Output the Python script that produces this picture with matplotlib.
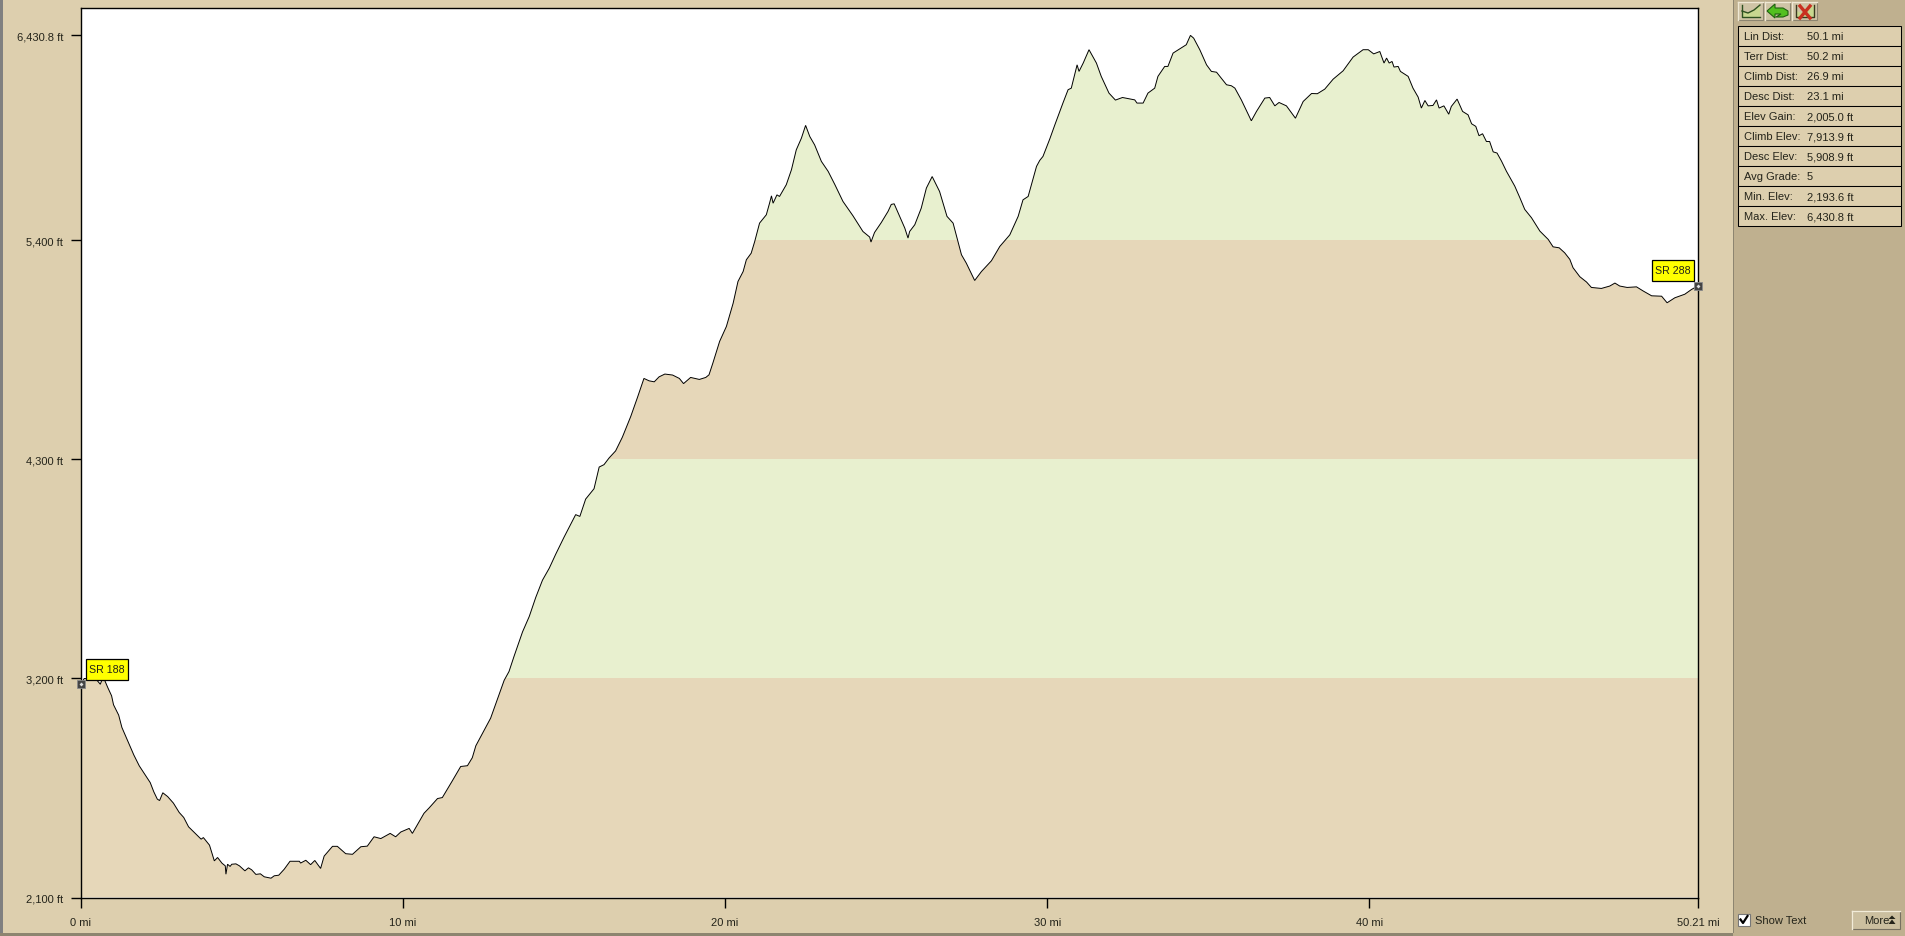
import matplotlib
matplotlib.use("Agg")
import matplotlib.pyplot as plt
from matplotlib.patches import Polygon, Rectangle

plt.rcParams['font.family'] = ['Liberation Sans', 'DejaVu Sans']

# ---------- data ----------
dist_mi = [
0,0.1,0.47,0.6,0.65,0.73,0.83,0.95,1.01,1.17,1.27,1.45,1.64,1.81,2.0,2.15,2.26,2.37,2.44,2.54,2.69,2.87,3.05,3.19,3.34,3.57,3.73,3.8,3.99,4.14,
4.24,4.38,4.48,4.5,4.55,4.63,4.68,4.81,4.92,5.09,5.2,5.3,5.43,5.57,5.69,5.9,6.0,6.14,6.31,6.49,6.78,
6.82,6.98,7.13,7.26,7.44,7.55,7.81,7.96,8.22,8.43,8.69,8.89,9.1,9.31,9.6,9.77,9.93,10.19,10.29,10.65,10.81,11.07,11.22,11.53,11.79,12.0,12.15,12.26,
12.52,12.72,12.93,13.14,13.29,13.45,13.71,13.92,14.12,14.33,14.54,14.74,15.0,15.36,15.49,15.67,15.93,16.09,16.24,16.4,16.6,16.81,17.07,17.28,17.48,
17.64,17.8,17.95,18.13,18.37,18.58,18.71,18.93,19.2,19.4,19.5,19.62,19.83,20.04,20.25,20.4,20.56,20.66,20.81,20.92,21.07,21.28,21.38,21.44,21.49,
21.61,21.69,21.9,22.06,22.21,22.37,22.5,22.63,22.78,22.99,23.2,23.41,23.66,23.97,24.28,24.49,24.53,24.64,24.85,25.06,25.16,25.25,25.42,25.58,25.68,
25.73,25.89,26.09,26.25,26.43,26.66,26.89,27.08,27.34,27.49,27.75,27.96,28.27,28.53,28.84,29.1,29.25,29.41,29.67,29.77,29.87,30.03,30.08,30.24,
30.49,30.65,30.75,30.93,30.99,31.12,31.3,31.53,31.68,31.92,32.12,32.34,32.72,32.79,32.98,33.13,33.34,33.44,33.65,33.75,33.91,34.32,34.45,34.55,
34.74,34.95,35.1,35.26,35.57,35.72,35.83,36.03,36.34,36.5,36.76,36.91,37.07,37.2,37.43,37.71,37.95,38.21,38.39,38.62,38.88,39.19,39.5,39.81,39.97,
40.14,40.33,40.46,40.54,40.62,40.71,40.77,40.9,40.97,41.21,41.36,41.52,41.62,41.73,41.83,41.98,42.09,42.17,42.32,42.47,42.55,42.73,42.9,43.07,43.18,
43.31,43.41,43.52,43.64,43.74,43.85,43.97,44.11,44.26,44.52,44.68,44.83,45.04,45.3,45.56,45.71,45.9,46.07,46.23,46.33,46.54,46.75,46.9,47.21,47.47,
47.63,47.78,48.01,48.3,48.51,48.77,49.08,49.25,49.49,49.8,50.01,50.21]
elev_ft = [
3171,3200,3196,3171,3193,3193,3155,3113,3068,3016,2954,2887,2816,2761,2714,2677,2631,2594,2587,2626,2607,2574,2527,2502,2455,2418,2393,2401,2363,2284,
2301,2272,2259,2217,2267,2256,2267,2269,2259,2234,2249,2239,2216,2219,2204,2197,2209,2212,2242,2282,2282,
2273,2287,2265,2286,2246,2308,2357,2357,2320,2317,2355,2358,2405,2396,2422,2405,2429,2447,2422,2523,2550,2597,2602,2686,2758,2762,2802,2862,
2940,3001,3096,3191,3235,3313,3434,3512,3607,3694,3754,3824,3910,4023,4014,4101,4153,4262,4274,4308,4343,4412,4516,4612,4707,
4695,4690,4715,4729,4724,4707,4681,4712,4702,4712,4725,4784,4893,4968,5085,5194,5244,5303,5336,5395,5487,5529,5587,5624,5587,
5629,5621,5680,5755,5855,5914,5978,5922,5880,5797,5747,5680,5596,5524,5445,5417,5392,5440,5490,5546,5581,5584,5521,5462,5412,
5445,5479,5562,5663,5721,5646,5521,5487,5328,5286,5199,5244,5298,5370,5428,5521,5604,5621,5772,5802,5822,5889,5909,5981,
6090,6157,6165,6282,6249,6291,6358,6291,6224,6140,6105,6118,6106,6090,6090,6140,6165,6224,6274,6274,6341,6383,6430,6416,
6358,6282,6249,6245,6182,6177,6165,6106,6001,6048,6115,6118,6076,6093,6076,6014,6098,6138,6137,6160,6210,6252,6321,6358,6358,
6337,6349,6291,6316,6291,6299,6271,6274,6249,6224,6165,6120,6065,6103,6076,6078,6106,6065,6076,6034,6073,6110,6048,6031,5986,
5973,5926,5936,5897,5897,5845,5839,5798,5748,5673,5614,5556,5514,5447,5405,5368,5363,5338,5305,5263,5218,5191,5164,5159,5171,
5186,5171,5164,5167,5146,5122,5120,5087,5112,5130,5154,5172]

y_ticks = [2100, 3200, 4300, 5400, 6430.8]
y_tick_labels = ['2,100 ft', '3,200 ft', '4,300 ft', '5,400 ft', '6,430.8 ft']
x_ticks = [0, 10, 20, 30, 40, 50.21]
x_tick_labels = ['0 mi', '10 mi', '20 mi', '30 mi', '40 mi', '50.21 mi']
stat_names = ['Lin Dist:', 'Terr Dist:', 'Climb Dist:', 'Desc Dist:', 'Elev Gain:',
              'Climb Elev:', 'Desc Elev:', 'Avg Grade:', 'Min. Elev:', 'Max. Elev:']
stat_values = ['50.1 mi', '50.2 mi', '26.9 mi', '23.1 mi', '2,005.0 ft',
               '7,913.9 ft', '5,908.9 ft', '5', '2,193.6 ft', '6,430.8 ft']
waypoints = ['SR 188', 'SR 288']

# ---------- styles ----------
TAN = '#E6D7B9'
GREEN = '#E8F0CF'
PANEL = '#DDCFAE'
SIDE = '#BFB08F'
TXT = '#24241a'
W, H = 1905, 937

fig = plt.figure(figsize=(W / 100, H / 100), dpi=100, facecolor=SIDE)

# background layer in pixel units
bg = fig.add_axes([0, 0, 1, 1], zorder=-1)
bg.set_xlim(0, W)
bg.set_ylim(H, 0)
bg.axis('off')
bg.add_patch(Rectangle((0, 0), W, H, fc=SIDE, ec='none'))
bg.add_patch(Rectangle((0, 0), 1733, 933.5, fc=PANEL, ec='none'))
bg.add_patch(Rectangle((0, 0), 2.5, H, fc='#808080', ec='none'))
bg.add_patch(Rectangle((0, 933.5), 1733, 4, fc='#8d8570', ec='none'))
bg.add_patch(Rectangle((1732.5, 0), 1.5, 934, fc='#8d8570', ec='none'))

# main axes
ax = fig.add_axes([81 / W, (H - 898.5) / H, (1698 - 81) / W, 890 / H], facecolor='white')
ax.set_xlim(0, 50.21)
ax.set_ylim(2100, 6570)

outline = Polygon(list(zip(dist_mi, elev_ft)) + [(50.21, 2100), (0, 2100)],
                  closed=True, fc='none', ec='none', transform=ax.transData)
ax.add_patch(outline)
edges = [2100, 3200, 4300, 5400, 6570]
for lo, hi, c in zip(edges[:-1], edges[1:], [TAN, GREEN, TAN, GREEN]):
    span = ax.axhspan(lo, hi, fc=c, ec='none', zorder=1)
    span.set_clip_path(outline)

ax.plot(dist_mi, elev_ft, color='black', lw=0.7, zorder=3, solid_joinstyle='miter')

ax.set_xticks(x_ticks)
ax.set_xticklabels(x_tick_labels, fontsize=8, color=TXT)
ax.set_yticks(y_ticks)
ax.set_yticklabels(y_tick_labels, fontsize=8, color=TXT)
ax.tick_params(axis='x', length=7.2, width=1, pad=7, color='black')
ax.tick_params(axis='y', length=7, width=1, pad=6, color='black')
for s in ax.spines.values():
    s.set_linewidth(1)
    s.set_color('black')

# waypoint markers
for xv, yv in [(dist_mi[0], elev_ft[0]), (dist_mi[-1], elev_ft[-1])]:
    ax.plot([xv], [yv], marker='s', ms=5.2, mfc='#444444', mec='#8a8a8a', mew=0.6,
            clip_on=False, zorder=6)
    ax.plot([xv], [yv], marker='D', ms=2, mfc='#dddddd', mec='none', clip_on=False, zorder=7)

# foreground layer in pixel units: waypoint labels
fg = fig.add_axes([0, 0, 1, 1], zorder=5, facecolor='none')
fg.set_xlim(0, W)
fg.set_ylim(H, 0)
fg.axis('off')
for name, (bx, by) in zip(waypoints, [(85.5, 659.5), (1651.5, 260.5)]):
    fg.add_patch(Rectangle((bx, by), 42, 21, fc='#FFFF00', ec='black', lw=0.9))
    fg.text(bx + 21, by + 10.5, name, fontsize=7.7, color=TXT, ha='center', va='center')

# stats table
box_x0, box_x1, box_y0, row_h = 1737.5, 1900.5, 27, 20
for i, (n, v) in enumerate(zip(stat_names, stat_values)):
    y = box_y0 + i * row_h
    bg.add_patch(Rectangle((box_x0, y), box_x1 - box_x0, row_h, fc=PANEL, ec='black', lw=0.75))
    bg.text(1744, y + row_h / 2, n, fontsize=8, color=TXT, va='center', ha='left')
    bg.text(1807, y + row_h / 2, v, fontsize=8, color=TXT, va='center', ha='left')

# toolbar buttons
for x0 in [1738, 1765, 1792]:
    bg.add_patch(Rectangle((x0, 3), 25, 18, fc='#CFC4A6', ec='#8d8570', lw=0.8))
    bg.plot([x0, x0 + 25], [3, 3], color='#EFE8D4', lw=1)
    bg.plot([x0, x0], [3, 21], color='#EFE8D4', lw=1)
bg.add_patch(Polygon([(1742, 18), (1742, 12), (1748, 14), (1754, 11), (1760, 6), (1760, 18)],
                     fc='#C8D890', ec='none'))
bg.plot([1742, 1748, 1754, 1760], [12, 14, 11, 6], color='#2E5020', lw=1)
bg.plot([1742, 1742, 1760], [6, 18, 18], color='#2E5020', lw=1)
bg.add_patch(Polygon([(1767, 12), (1775, 5), (1775, 9), (1783, 9), (1788, 12), (1788, 16), (1783, 18),
                      (1776, 18), (1781, 15), (1775, 15), (1775, 19)],
                     fc='#52C020', ec='#1E6010', lw=0.8))
bg.add_patch(Polygon([(1796, 18), (1796, 12), (1802, 14), (1808, 10), (1814, 6), (1814, 18)],
                     fc='#C8D890', ec='none'))
bg.plot([1796, 1796, 1814, 1814], [6, 18, 18, 6], color='#3A3A20', lw=1)
bg.plot([1800, 1810], [7, 19], color='#C83020', lw=2.4)
bg.plot([1810, 1800], [7, 19], color='#C83020', lw=2.4)

# bottom controls
bg.add_patch(Rectangle((1738, 915), 11.5, 11.5, fc='white', ec='#777777', lw=0.8))
bg.plot([1740.5, 1743, 1747.5], [920.5, 924, 917], color='black', lw=1.6)
bg.text(1755, 921, 'Show Text', fontsize=8, color=TXT, va='center', ha='left')
bg.add_patch(Rectangle((1852, 912), 48, 18, fc='#CBBF9F', ec='#777060', lw=0.8))
bg.plot([1852, 1900], [912, 912], color='#F2ECD8', lw=1)
bg.plot([1852, 1852], [912, 930], color='#F2ECD8', lw=1)
bg.text(1864, 921, 'More', fontsize=8, color=TXT, va='center', ha='left')
bg.add_patch(Polygon([(1888.5, 920), (1892, 916.5), (1895.5, 920)], fc=TXT, ec='none'))
bg.add_patch(Polygon([(1888.5, 925), (1892, 920.5), (1895.5, 925)], fc=TXT, ec='none'))

fig.savefig('out.png', dpi=100, facecolor=fig.get_facecolor())
